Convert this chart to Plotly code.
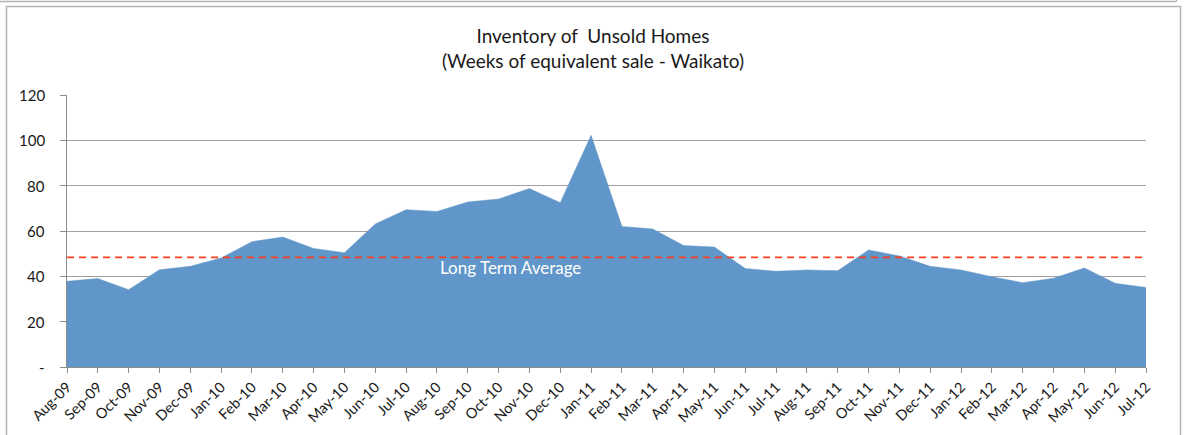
import plotly.graph_objects as go

months = ["Aug-09", "Sep-09", "Oct-09", "Nov-09", "Dec-09", "Jan-10", "Feb-10", "Mar-10",
          "Apr-10", "May-10", "Jun-10", "Jul-10", "Aug-10", "Sep-10", "Oct-10", "Nov-10",
          "Dec-10", "Jan-11", "Feb-11", "Mar-11", "Apr-11", "May-11", "Jun-11", "Jul-11",
          "Aug-11", "Sep-11", "Oct-11", "Nov-11", "Dec-11", "Jan-12", "Feb-12", "Mar-12",
          "Apr-12", "May-12", "Jun-12", "Jul-12"]
weeks = [37.8, 39.0, 34.1, 42.9, 44.4, 48.1, 55.3, 57.3,
         52.3, 50.4, 63.1, 69.4, 68.6, 72.8, 74.1, 78.7,
         72.5, 102.2, 62.0, 60.9, 53.6, 52.9, 43.5, 42.2,
         42.8, 42.5, 51.6, 49.0, 44.4, 42.8, 39.8, 37.2,
         39.1, 43.7, 36.9, 35.1]
long_term_average = 48.4
y_tick_vals = [0, 20, 40, 60, 80, 100, 120]
y_tick_text = ["-", "20", "40", "60", "80", "100", "120"]

FONT = "Lato"
TXT = "#1A1A1A"
fig = go.Figure()
fig.add_trace(go.Scatter(
    x=months, y=weeks, mode="lines", fill="tozeroy",
    fillcolor="#6096C9", line=dict(color="#6096C9", width=0.5),
    hoverinfo="x+y", showlegend=False))
fig.add_trace(go.Scatter(
    x=[months[0], months[-1]], y=[long_term_average, long_term_average],
    mode="lines", line=dict(color="#F8401E", width=1.8, dash="7px,5px"),
    showlegend=False, cliponaxis=False))

W, H = 1186, 435
L, R, T, B = 67, 40, 95, 68
pw, ph = W - L - R, H - T - B


def px(x):
    return (x - L) / pw


def py(y):
    return (H - B - y) / ph


shapes = [
    dict(type="rect", xref="paper", yref="paper",
         x0=px(6.5), x1=px(1180.5), y0=py(445), y1=py(6.5),
         line=dict(color="#B4B4B4", width=1.5), fillcolor="rgba(0,0,0,0)", layer="below"),
    dict(type="line", xref="paper", yref="paper",
         x0=px(-5), x1=px(1176.5), y0=py(1.5), y1=py(1.5),
         line=dict(color="#B4B4B4", width=1.5)),
    dict(type="line", xref="paper", yref="paper",
         x0=px(1176.5), x1=px(1176.5), y0=py(1.5), y1=py(-10),
         line=dict(color="#B4B4B4", width=1.5)),
]

annotations = [dict(
    x=14.4, y=43.8, xref="x", yref="y", text="Long Term Average",
    showarrow=False, font=dict(family=FONT, size=17, color="white"))]
for v, t in zip(y_tick_vals, y_tick_text):
    annotations.append(dict(
        x=px(47), y=v, xref="paper", yref="y", text=t, showarrow=False,
        xanchor="right", yanchor="middle",
        font=dict(family=FONT, size=15, color=TXT)))

fig.update_layout(
    width=W, height=H,
    margin=dict(l=L, r=R, t=T, b=B),
    paper_bgcolor="white", plot_bgcolor="white",
    font=dict(family=FONT, color=TXT),
    title=dict(
        text="Inventory of  Unsold Homes<br>(Weeks of equivalent sale - Waikato)",
        x=593 / W, xanchor="center", y=1 - 43 / H, yanchor="middle",
        font=dict(family=FONT, size=19, color=TXT)),
    xaxis=dict(
        type="category", range=[0, len(months) - 1],
        showgrid=False, showline=True, linecolor="#8C8C8C", linewidth=1,
        ticks="outside", ticklen=5, tickcolor="#8C8C8C",
        tickangle=-45, tickfont=dict(family=FONT, size=14.5, color=TXT),
        zeroline=False, automargin=False),
    yaxis=dict(
        range=[0, 120], tickvals=y_tick_vals, showticklabels=False,
        showgrid=True, gridcolor="#A0A0A0", gridwidth=1,
        showline=True, linecolor="#8C8C8C", linewidth=1,
        ticks="outside", ticklen=6, tickcolor="#8C8C8C",
        zeroline=False, automargin=False),
    shapes=shapes,
    annotations=annotations,
)

fig.write_html("out.html")
